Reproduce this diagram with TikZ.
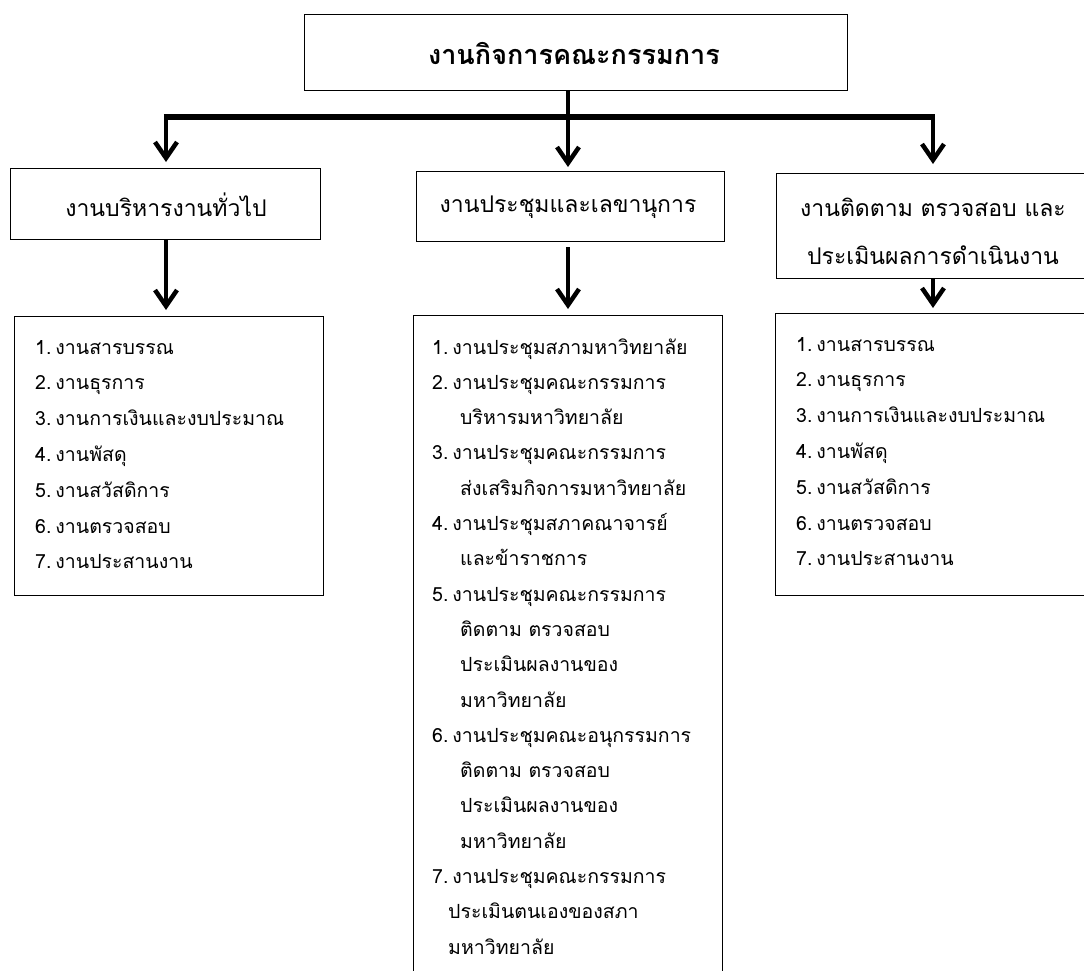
\documentclass[tikz,border=0pt]{standalone}
\usepackage{fontspec}
\newfontfamily\thaifont[Script=Thai]{Loma}
\usetikzlibrary{arrows.meta}
\begin{document}
\begin{tikzpicture}[x=1pt,y=-1pt,
  box/.style={draw, line width=1.3pt, inner sep=0pt, anchor=north west},
  conn/.style={line width=4.5pt, -{Straight Barb[length=16pt,width=22pt]}},
  barline/.style={line width=6pt},
  item/.style={anchor=base west, inner sep=0pt, font=\thaifont\fontsize{19.5}{22}\selectfont},
  head/.style={inner sep=0pt, font=\thaifont\fontsize{23}{48}\selectfont, align=center},
]
\useasboundingbox (0,0) rectangle (1084,971);

% boxes
\node[box, minimum width=543pt, minimum height=76pt] (top) at (304,14) {};
\node[box, minimum width=310pt, minimum height=71pt] (l2a) at (10,168) {};
\node[box, minimum width=308pt, minimum height=70pt] (l2b) at (416,171) {};
\node[box, minimum width=330pt, minimum height=105pt] (l2c) at (776,173) {};
\node[box, minimum width=309pt, minimum height=279pt] (l3a) at (14,316) {};
\node[box, minimum width=309pt, minimum height=700pt] (l3b) at (413,315) {};
\node[box, minimum width=330pt, minimum height=282pt] (l3c) at (775,313) {};

% titles
\node[inner sep=0pt, font=\thaifont\bfseries\fontsize{27}{32}\selectfont] (toptext) at (574,53) {งานกิจการคณะกรรมการ};
\node[head] (l2atext) at (166,205) {งานบริหารงานทั่วไป};
\node[head] (l2btext) at (568,207) {งานประชุมและเลขานุการ};
\node[head] (l2ctext) at (933,231) {งานติดตาม ตรวจสอบ และ\\ประเมินผลการดำเนินงาน};

% connectors
\coordinate (barL) at (166,117);
\coordinate (barM) at (568,117);
\coordinate (barR) at (933,117);
\draw[line width=4.5pt] (barM |- top.south) -- (barM);
\draw[barline] ([xshift=-2.25pt]barL) -- ([xshift=2.25pt]barR);
\draw[conn, shorten >=6pt] (barL) -- (barL |- l2a.north);
\draw[conn, shorten >=4pt] (barM) -- (barM |- l2b.north);
\draw[conn, shorten >=9pt] (barR) -- (barR |- l2c.north);
\draw[conn, shorten >=6pt] (barL |- l2a.south) -- (barL |- l3a.north);
\draw[conn, shorten <=5pt, shorten >=6pt] (barM |- l2b.south) -- (barM |- l3b.north);
\draw[conn, shorten >=5pt] (barR |- l2c.south) -- (barR |- l3c.north);

% lists
\foreach \t [count=\i] in {งานสารบรรณ, งานธุรการ, งานการเงินและงบประมาณ, งานพัสดุ, งานสวัสดิการ, งานตรวจสอบ, งานประสานงาน}
  \node[item, name=la\i] at (35,{354+35.8*(\i-1)}) {\i.\hspace{4pt}\t};

\foreach \t [count=\i] in {งานสารบรรณ, งานธุรการ, งานการเงินและงบประมาณ, งานพัสดุ, งานสวัสดิการ, งานตรวจสอบ, งานประสานงาน}
  \node[item, name=lc\i] at (796,{351+35.8*(\i-1)}) {\i.\hspace{4pt}\t};

\foreach \x/\t [count=\i] in {432/1.\hspace{4pt}งานประชุมสภามหาวิทยาลัย, 432/2.\hspace{4pt}งานประชุมคณะกรรมการ, 460/บริหารมหาวิทยาลัย, 432/3.\hspace{4pt}งานประชุมคณะกรรมการ, 460/ส่งเสริมกิจการมหาวิทยาลัย, 432/4.\hspace{4pt}งานประชุมสภาคณาจารย์, 460/และข้าราชการ, 432/5.\hspace{4pt}งานประชุมคณะกรรมการ, 460/ติดตาม ตรวจสอบ, 460/ประเมินผลงานของ, 460/มหาวิทยาลัย, 432/6.\hspace{4pt}งานประชุมคณะอนุกรรมการ, 460/ติดตาม ตรวจสอบ, 460/ประเมินผลงานของ, 460/มหาวิทยาลัย, 432/7.\hspace{4pt}งานประชุมคณะกรรมการ, 448/ประเมินตนเองของสภา, 448/มหาวิทยาลัย}
  \node[item, name=lb\i] at (\x,{354+35.3*(\i-1)}) {\t};
\end{tikzpicture}
\end{document}
